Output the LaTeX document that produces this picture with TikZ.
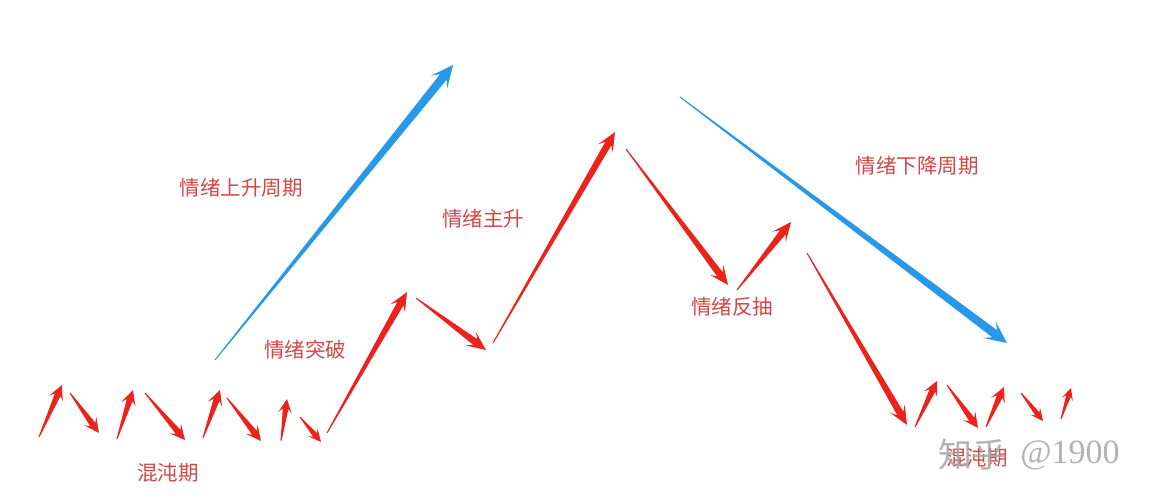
\documentclass[tikz,border=0pt]{standalone}
\usepackage{fontspec}
\usepackage{tikz}
\usetikzlibrary{calc}
\newfontfamily\cjk{Noto Sans CJK SC}
\newfontfamily\markserif{Liberation Serif}

\definecolor{trendred}{RGB}{236,34,28}
\definecolor{cycleblue}{RGB}{40,152,232}
\definecolor{labelred}{RGB}{212,70,70}
\definecolor{markgray}{RGB}{165,165,165}

\tikzset{
  phase/.style={text=labelred, font=\cjk\fontsize{20.5}{20.5}\selectfont, inner sep=0pt},
  watermark/.style={text=markgray, inner sep=0pt, opacity=0.85}
}

% tapered arrow: from, to, colour, half width at the head, head length
\newcommand{\trendarrow}[5]{%
  \path ($(#2)!#5!(#1)$) coordinate (wing) ($(#2)!0.7*#5!(#1)$) coordinate (neck);
  \fill[#3] ($(#1)!0.5pt!90:(#2)$) -- ($(neck)!#4!90:(#2)$) -- ($(wing)!2.4*#4!90:(#2)$) -- (#2)
    -- ($(wing)!2.4*#4!-90:(#2)$) -- ($(neck)!#4!-90:(#2)$) -- ($(#1)!0.5pt!-90:(#2)$) -- cycle;
}

\begin{document}
\begin{tikzpicture}[x=1pt, y=-1pt]
            \useasboundingbox (0,0) rectangle (1153,500);

            % chaos on the left
            \coordinate (l1s) at (39,437);  \coordinate (l1e) at (62,385);
            \coordinate (l2s) at (70,393);  \coordinate (l2e) at (99,433);
            \coordinate (l3s) at (117,439); \coordinate (l3e) at (133,390);
            \coordinate (l4s) at (145,393); \coordinate (l4e) at (185,440);
            \coordinate (l5s) at (203,438); \coordinate (l5e) at (220,390);
            \coordinate (l6s) at (227,398); \coordinate (l6e) at (261,441);
            \coordinate (l7s) at (281,441); \coordinate (l7e) at (287,399);
            \coordinate (l8s) at (300,417); \coordinate (l8e) at (321,442);

            \trendarrow{l1s}{l1e}{trendred}{3.1pt}{15pt}
            \trendarrow{l2s}{l2e}{trendred}{3.1pt}{15pt}
            \trendarrow{l3s}{l3e}{trendred}{3.1pt}{15pt}
            \trendarrow{l4s}{l4e}{trendred}{3.1pt}{15pt}
            \trendarrow{l5s}{l5e}{trendred}{3.1pt}{15pt}
            \trendarrow{l6s}{l6e}{trendred}{3.1pt}{15pt}
            \trendarrow{l7s}{l7e}{trendred}{2.8pt}{14pt}
            \trendarrow{l8s}{l8e}{trendred}{2.6pt}{13pt}

            % breakout and main rise
            \coordinate (b1s) at (327,433); \coordinate (b1e) at (407,292);
            \coordinate (b2s) at (416,298); \coordinate (b2e) at (486,350);
            \coordinate (b3s) at (493,343); \coordinate (b3e) at (615,132);

            \trendarrow{b1s}{b1e}{trendred}{3.5pt}{19pt}
            \trendarrow{b2s}{b2e}{trendred}{3.5pt}{19pt}
            \trendarrow{b3s}{b3e}{trendred}{3.5pt}{19pt}

            % pull back and fall
            \coordinate (f1s) at (626,149); \coordinate (f1e) at (728,285);
            \coordinate (f2s) at (737,290); \coordinate (f2e) at (791,222);
            \coordinate (f3s) at (807,253); \coordinate (f3e) at (907,425);

            \trendarrow{f1s}{f1e}{trendred}{3.5pt}{19pt}
            \trendarrow{f2s}{f2e}{trendred}{3.5pt}{19pt}
            \trendarrow{f3s}{f3e}{trendred}{3.5pt}{19pt}

            % chaos on the right
            \coordinate (r1s) at (915,427);  \coordinate (r1e) at (937,381);
            \coordinate (r2s) at (947,385);  \coordinate (r2e) at (978,428);
            \coordinate (r3s) at (986,427);  \coordinate (r3e) at (1004,387);
            \coordinate (r4s) at (1021,393); \coordinate (r4e) at (1043,421);
            \coordinate (r5s) at (1061,419); \coordinate (r5e) at (1071,388);

            \trendarrow{r1s}{r1e}{trendred}{3.1pt}{15pt}
            \trendarrow{r2s}{r2e}{trendred}{3.1pt}{15pt}
            \trendarrow{r3s}{r3e}{trendred}{3.1pt}{15pt}
            \trendarrow{r4s}{r4e}{trendred}{2.6pt}{13pt}
            \trendarrow{r5s}{r5e}{trendred}{2.4pt}{12pt}

            % the two cycles
            \coordinate (ups) at (215,360); \coordinate (upe) at (453,65);
            \coordinate (dns) at (680,97);  \coordinate (dne) at (1007,343);

            \trendarrow{ups}{upe}{cycleblue}{4.3pt}{22pt}
            \trendarrow{dns}{dne}{cycleblue}{4.3pt}{22pt}

            \node[phase] (chaosl) at (168,473) {混沌期};
            \node[phase] (rise) at (241,188) {情绪上升周期};
            \node[phase] (breakout) at (305,350) {情绪突破};
            \node[phase] (mainrise) at (483,219) {情绪主升};
            \node[phase] (pullback) at (732,307) {情绪反抽};
            \node[phase] (fall) at (917,166) {情绪下降周期};
            \node[phase] (chaosr) at (977,458) {混沌期};

            \node[watermark, font=\cjk\fontsize{34}{34}\selectfont] (markzh) at (972,455) {知乎};
            \node[watermark, font=\markserif\fontsize{34}{34}\selectfont] (markid) at (1070,455) {@1900};
        \end{tikzpicture}
\end{document}
